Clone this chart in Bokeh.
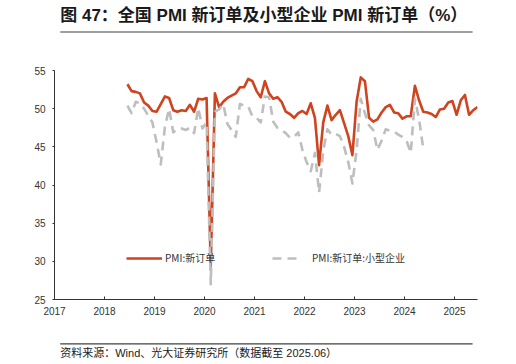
import pandas as pd
from bokeh.plotting import figure
from bokeh.layouts import column
from bokeh.models import Range1d, FixedTicker, Legend, LegendItem
from bokeh.core.properties import value
from bokeh.embed import file_html
from bokeh.resources import INLINE

# ---- data (monthly) ----
start_month = "2018-06"
pmi_new_orders = [
    53.2, 52.3, 52.2, 52.0, 50.8, 50.4, 49.7,                          # 2018 Jun-Dec
    49.6, 50.6, 51.6, 51.4, 49.8, 49.6, 49.8, 49.7, 50.5, 49.6, 51.3, 51.2,  # 2019
    51.4, 29.3, 52.0, 50.2, 50.9, 51.4, 51.7, 52.0, 52.8, 52.8, 53.9, 53.6,  # 2020
    52.3, 51.5, 53.6, 52.0, 51.3, 51.5, 50.9, 49.6, 49.3, 48.8, 49.4, 49.7,  # 2021
    49.3, 50.7, 48.8, 42.6, 48.2, 50.4, 48.5, 49.2, 49.8, 48.1, 46.4, 43.9,  # 2022
    50.9, 54.1, 53.6, 48.8, 48.3, 48.6, 49.5, 50.2, 50.5, 49.5, 49.4, 48.7,  # 2023
    49.0, 49.0, 53.0, 51.1, 49.6, 49.5, 49.3, 48.9, 49.9, 50.0, 50.8, 51.0,  # 2024
    49.2, 51.1, 51.8, 49.2, 49.8, 50.2,                                # 2025 Jan-Jun
]
small_new_orders = [
    50.4, 49.4, 50.9, 50.7, 50.0, 49.1, 48.2,                          # 2018 Jun-Dec
    45.6, 42.7, 47.6, 50.0, 46.9, 47.3, 47.4, 47.2, 47.5, 46.8, 50.1, 47.4,  # 2019
    48.2, 27.0, 49.6, 49.9, 50.6, 48.0, 47.2, 46.3, 50.6, 50.4, 50.3, 49.0,  # 2020
    48.8, 48.2, 51.6, 51.5, 48.3, 47.5, 47.2, 46.8, 46.2, 46.3, 46.9, 44.6,  # 2021
    43.0, 41.8, 44.2, 39.0, 44.5, 47.3, 46.6, 46.7, 46.4, 45.0, 43.0, 40.2,  # 2022
    44.5, 51.3, 49.4, 47.8, 47.2, 44.6, 45.8, 47.3, 47.1, 47.0, 46.6, 46.3,  # 2023
    45.8, 44.2, 51.3, 48.6, 44.8,                                      # 2024 Jan-May
]
year_ticks = [2017, 2018, 2019, 2020, 2021, 2022, 2023, 2024, 2025]
year_labels = ["2017", "2018", "2019", "2020", "2021", "2022", "2023", "2024", "2025"]
y_ticks = [25, 30, 35, 40, 45, 50, 55]
series_names = ["PMI:新订单", "PMI:新订单:小型企业"]
title_text = "图 47：全国 PMI 新订单及小型企业 PMI 新订单（%）"
source_text = "资料来源：Wind、光大证券研究所（数据截至 2025.06）"

months = pd.period_range(start_month, periods=len(pmi_new_orders), freq="M")
x_red = [m.year + (m.month - 0.5) / 12 for m in months]
x_gray = x_red[:len(small_new_orders)]

RED = "#D0431F"
GRAY = "#BEBEBE"
AXIS = "#333333"
TEXT_FONT = "Liberation Sans, Noto Sans CJK SC"
W = 516


def blank(height):
    f = figure(width=W, height=height, output_backend="svg", toolbar_location=None,
               x_range=Range1d(0, W), y_range=Range1d(height, 0),
               x_axis_location=None, y_axis_location=None, min_border=0)
    f.outline_line_color = None
    f.xgrid.grid_line_color = None
    f.ygrid.grid_line_color = None
    return f


# header: title + rule
head = blank(36)
head.text(x=[7], y=[15], text=[title_text], text_font=value(TEXT_FONT),
          text_font_style="bold", text_font_size="17px", text_baseline="middle",
          text_color="#1a1a1a")
head.segment(x0=[7], y0=[31.5], x1=[510], y1=[31.5], line_color="#404040", line_width=1.2)

# main chart
p = figure(width=W, height=304, output_backend="svg", toolbar_location=None,
           x_range=Range1d(2017, 2025.46), y_range=Range1d(25, 55),
           min_border_left=54, min_border_right=39, min_border_top=34,
           min_border_bottom=41)
p.outline_line_color = None
p.xgrid.grid_line_color = None
p.ygrid.grid_line_color = None

p.xaxis.ticker = FixedTicker(ticks=year_ticks)
p.xaxis.major_label_overrides = {t: l for t, l in zip(year_ticks, year_labels)}
p.xaxis.major_tick_in = 3
p.xaxis.major_tick_out = 0
p.xaxis.minor_tick_line_color = None
p.xaxis.major_label_standoff = 7
p.yaxis.ticker = FixedTicker(ticks=y_ticks)
p.yaxis.major_tick_in = 0
p.yaxis.major_tick_out = 2
p.yaxis.minor_tick_line_color = None
p.yaxis.major_label_standoff = 7
for ax in (p.xaxis, p.yaxis):
    ax.axis_line_color = AXIS
    ax.major_tick_line_color = AXIS
    ax.major_label_text_font = "Liberation Sans"
    ax.major_label_text_font_size = "10px"
    ax.major_label_text_color = "#333333"

r_red = p.line(x_red, pmi_new_orders, line_color=RED, line_width=2.6, line_join="round")
r_gray = p.line(x_gray, small_new_orders, line_color=GRAY, line_width=2.6,
                line_dash="9 6", line_join="round")

for r, name, xloc, gw, so in ((r_red, series_names[0], 72, 36, 3),
                              (r_gray, series_names[1], 218, 28, 12)):
    lg = Legend(items=[LegendItem(label=name, renderers=[r])], location=(xloc, 34),
                orientation="horizontal", padding=0, margin=0, spacing=0,
                glyph_width=gw, glyph_height=14, label_height=14, label_standoff=so,
                border_line_color=None, background_fill_alpha=0,
                label_text_font="Noto Sans CJK SC", label_text_font_size="10px",
                label_text_color="#333333")
    p.add_layout(lg)

# footer: rule + source
foot = blank(24)
foot.segment(x0=[7], y0=[3.3], x1=[510], y1=[3.3], line_color="#404040", line_width=1.2)
foot.text(x=[7], y=[12.5], text=[source_text], text_font=value(TEXT_FONT),
          text_font_size="11px", text_baseline="middle", text_color="#1a1a1a")

layout = column(head, p, foot, spacing=0)
open("out.html", "w").write(file_html(layout, INLINE))
